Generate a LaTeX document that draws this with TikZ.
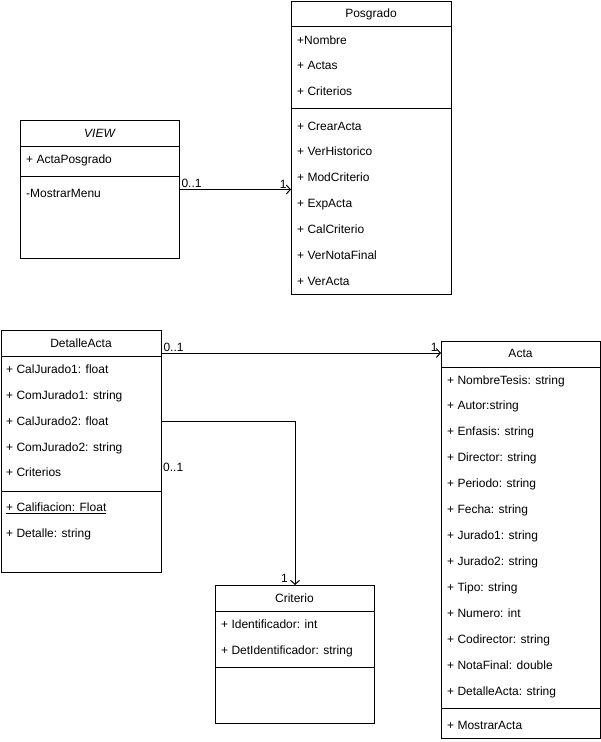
\documentclass[tikz,border=0pt]{standalone}
\usepackage{fontspec}
\setmainfont{Liberation Sans}
\usetikzlibrary{arrows.meta,positioning,calc}

\begin{document}
\begin{tikzpicture}[x=1pt, y=-1pt,
  umlclass/.style={draw, line width=1pt, anchor=north west, inner sep=0pt},
  title/.style={font=\fontsize{12}{14}\selectfont, inner sep=0pt,
    text height=8.6pt, text depth=0pt},
  attr/.style={title, anchor=west},
  mult/.style={font=\fontsize{12}{14}\selectfont, inner sep=1pt},
  assoc/.style={-{Straight Barb[length=4pt, width=9pt]}, line width=1pt}
]
  \useasboundingbox (0,0) rectangle (601,742);

  % Class boxes
  \node[umlclass, minimum width=159pt, minimum height=138pt] (view) at (20,120) {};
  \node[umlclass, minimum width=160pt, minimum height=293pt] (posgrado) at (291,0.5) {};
  \node[umlclass, minimum width=160pt, minimum height=242pt] (detalle) at (1,330) {};
  \node[umlclass, minimum width=159pt, minimum height=397pt] (acta) at (441,341) {};
  \node[umlclass, minimum width=159pt, minimum height=138pt] (criterio) at (215,585) {};

  % Header and separator lines
  \foreach \cls/\sep in {view/56, posgrado/108, detalle/161, acta/367, criterio/82} {
    \draw[line width=1pt] ([yshift=-26pt]\cls.north west) -- ([yshift=-26pt]\cls.north east);
    \draw[line width=1pt] ([yshift=-\sep pt]\cls.north west) -- ([yshift=-\sep pt]\cls.north east);
  }

  % VIEW
  \node[title, font=\fontsize{12}{14}\selectfont\itshape] (viewT) at (99.5,133) {VIEW};
  \node[attr] (view1) at (26,159) {+ ActaPosgrado};
  \node[attr] (view2) at (26,193) {-MostrarMenu};

  % Posgrado
  \node[title] (posgradoT) at (371,13.5) {Posgrado};
  \node[attr] (pos1) at (297,40) {+Nombre};
  \node[attr] (pos2) at (297,65) {+ Actas};
  \node[attr] (pos3) at (297,91) {+ Criterios};
  \node[attr] (pos4) at (297,126) {+ CrearActa};
  \node[attr] (pos5) at (297,151) {+ VerHistorico};
  \node[attr] (pos6) at (297,177) {+ ModCriterio};
  \node[attr] (pos7) at (297,203) {+ ExpActa};
  \node[attr] (pos8) at (297,229) {+ CalCriterio};
  \node[attr] (pos9) at (297,255) {+ VerNotaFinal};
  \node[attr] (pos10) at (297,281) {+ VerActa};

  % DetalleActa
  \node[title] (detalleT) at (81,343) {DetalleActa};
  \node[attr] (det1) at (6,369) {+ CalJurado1: float};
  \node[attr] (det2) at (6,395) {+ ComJurado1: string};
  \node[attr] (det3) at (6,421) {+ CalJurado2: float};
  \node[attr] (det4) at (6,447) {+ ComJurado2: string};
  \node[attr] (det5) at (6,472) {+ Criterios};
  \node[attr] (det6) at (6,507) {\underline{+ Califiacion: Float}};
  \node[attr] (det7) at (6,533) {+ Detalle: string};

  % Acta
  \node[title] (actaT) at (520.5,353) {Acta};
  \node[attr] (act1) at (447,380) {+ NombreTesis: string};
  \node[attr] (act2) at (447,405) {+ Autor:string};
  \node[attr] (act3) at (447,431) {+ Enfasis: string};
  \node[attr] (act4) at (447,457) {+ Director: string};
  \node[attr] (act5) at (447,483) {+ Periodo: string};
  \node[attr] (act6) at (447,509) {+ Fecha: string};
  \node[attr] (act7) at (447,535) {+ Jurado1: string};
  \node[attr] (act8) at (447,561) {+ Jurado2: string};
  \node[attr] (act9) at (447,587) {+ Tipo: string};
  \node[attr] (act10) at (447,613) {+ Numero: int};
  \node[attr] (act11) at (447,639) {+ Codirector: string};
  \node[attr] (act12) at (447,665) {+ NotaFinal: double};
  \node[attr] (act13) at (447,691) {+ DetalleActa: string};
  \node[attr] (act14) at (447,725) {+ MostrarActa};

  % Criterio
  \node[title] (criterioT) at (294.5,598.5) {Criterio};
  \node[attr] (cri1) at (221,624) {+ Identificador: int};
  \node[attr] (cri2) at (221,650) {+ DetIdentificador: string};

  % Associations
  \draw[assoc] (view.east) -- node[mult, pos=0, above right] (m1a) {0..1}
    node[mult, pos=1, above left, xshift=-3pt] (m1b) {1} (view.east -| posgrado.west);
  \draw[assoc] (actaT -| detalle.east) -- node[mult, pos=0, above right] (m2a) {0..1}
    node[mult, pos=1, above left, xshift=-2pt] (m2b) {1} (actaT -| acta.west);
  \draw[assoc] (det3 -| detalle.east) -| (criterio.north);
  \node[mult, anchor=north west] (m3a) at ($(det3 -| detalle.east)+(0,41)$) {0..1};
  \node[mult, anchor=south east] (m3b) at ($(criterio.north)+(-6,-1)$) {1};
\end{tikzpicture}
\end{document}
